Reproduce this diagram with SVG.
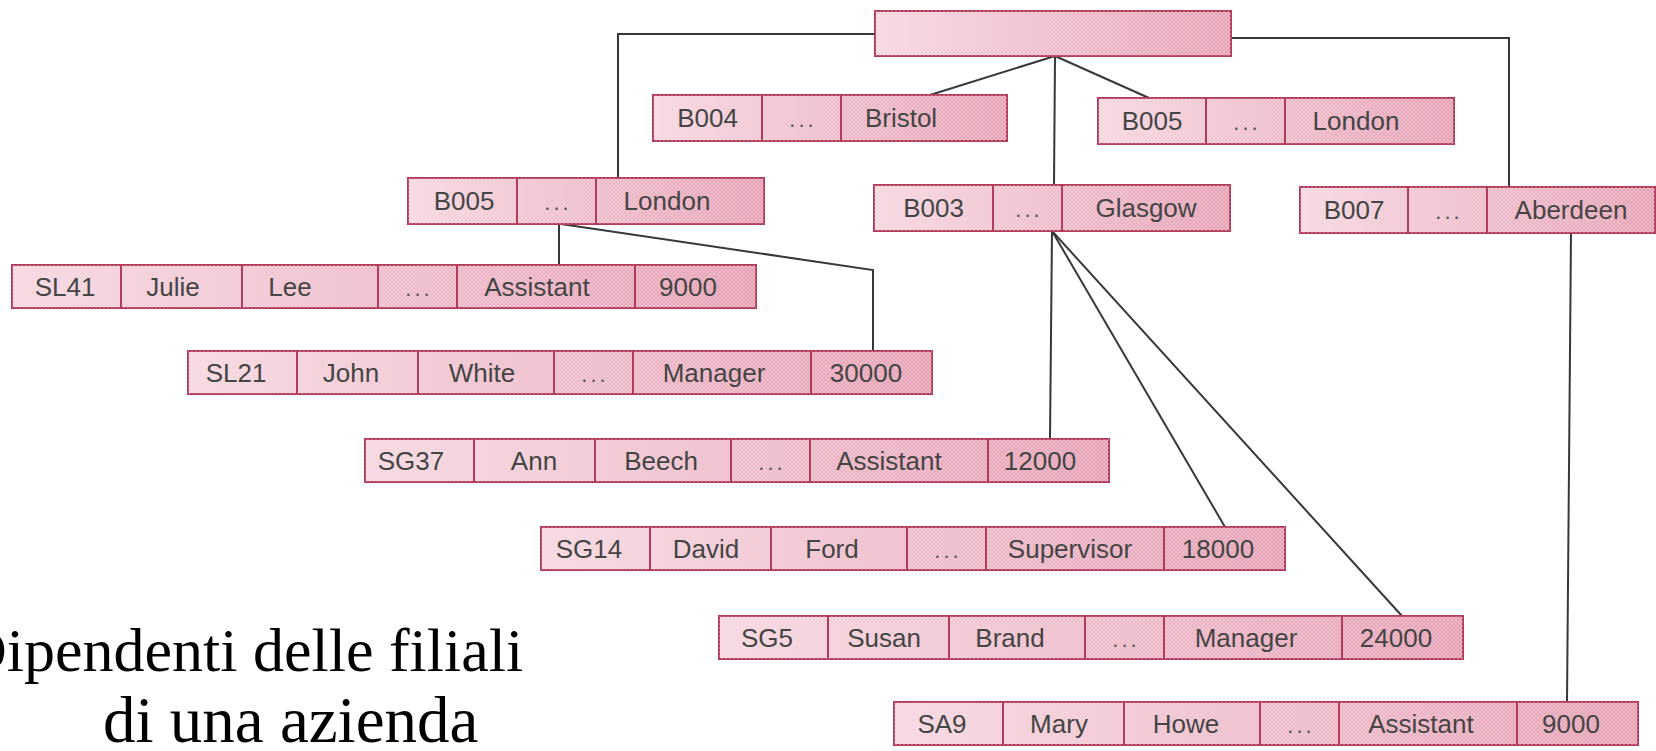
<svg xmlns="http://www.w3.org/2000/svg" width="1656" height="751" viewBox="0 0 1656 751">
<defs>
<linearGradient id="pink" x1="0" y1="0" x2="1" y2="0">
<stop offset="0" stop-color="#f6d6df"/>
<stop offset="1" stop-color="#e6a0b4"/>
</linearGradient>
<pattern id="hatch" width="4" height="4" patternUnits="userSpaceOnUse">
<path d="M0,4 L4,0 M0,0 L4,4" stroke="#ffffff" stroke-width="0.7" stroke-opacity="0.35"/>
</pattern>
<style>
.box{fill:url(#pink);stroke:#b33c5c;stroke-width:2}
.tex{fill:url(#hatch);stroke:none}
.div{stroke:#b33c5c;stroke-width:2}
.t{font-family:"Liberation Sans",Arial,sans-serif;font-size:26px;fill:#454545;text-anchor:middle}
.d{font-family:"Liberation Sans",Arial,sans-serif;font-size:22px;fill:#555;text-anchor:middle;letter-spacing:3px}
.c{fill:none;stroke:#383838;stroke-width:2}
.title{font-family:"Liberation Serif","Times New Roman",serif;fill:#000}
</style>
</defs>
<rect width="1656" height="751" fill="#ffffff"/>

<g id="connectors">
<polyline class="c" points="875,34 618,34 618,178"/>
<polyline class="c" points="1231,38 1509,38 1509,187"/>
<line class="c" x1="1055" y1="56" x2="930" y2="95"/>
<line class="c" x1="1055" y1="56" x2="1149" y2="98"/>
<line class="c" x1="1055" y1="56" x2="1054" y2="185"/>
<line class="c" x1="559" y1="224" x2="559" y2="265"/>
<polyline class="c" points="561,224 873,270 873,351"/>
<line class="c" x1="1052" y1="231" x2="1050" y2="439"/>
<line class="c" x1="1052" y1="231" x2="1225" y2="527"/>
<line class="c" x1="1052" y1="231" x2="1402" y2="616"/>
<line class="c" x1="1571" y1="233" x2="1567" y2="702"/>
</g>

<g id="root">
<rect class="box" x="875" y="11" width="356" height="45"/>
<rect class="tex" x="875" y="11" width="356" height="45"/>
</g>

<g id="b004">
<rect class="box" x="653" y="95" width="354" height="46"/>
<rect class="tex" x="653" y="95" width="354" height="46"/>
<line class="div" x1="762" y1="95" x2="762" y2="141"/>
<line class="div" x1="841" y1="95" x2="841" y2="141"/>
<text class="t" x="707.5" y="127">B004</text>
<text class="d" x="803" y="127">...</text>
<text class="t" x="901" y="127">Bristol</text>
</g>

<g id="b005-right">
<rect class="box" x="1098" y="98" width="356" height="46"/>
<rect class="tex" x="1098" y="98" width="356" height="46"/>
<line class="div" x1="1206" y1="98" x2="1206" y2="144"/>
<line class="div" x1="1285" y1="98" x2="1285" y2="144"/>
<text class="t" x="1152" y="130">B005</text>
<text class="d" x="1247" y="130">...</text>
<text class="t" x="1356" y="130">London</text>
</g>

<g id="b005-left">
<rect class="box" x="408" y="178" width="356" height="46"/>
<rect class="tex" x="408" y="178" width="356" height="46"/>
<line class="div" x1="517" y1="178" x2="517" y2="224"/>
<line class="div" x1="596" y1="178" x2="596" y2="224"/>
<text class="t" x="464" y="210">B005</text>
<text class="d" x="558" y="210">...</text>
<text class="t" x="667" y="210">London</text>
</g>

<g id="b003">
<rect class="box" x="874" y="185" width="356" height="46"/>
<rect class="tex" x="874" y="185" width="356" height="46"/>
<line class="div" x1="993" y1="185" x2="993" y2="231"/>
<line class="div" x1="1062" y1="185" x2="1062" y2="231"/>
<text class="t" x="933.5" y="217">B003</text>
<text class="d" x="1029" y="217">...</text>
<text class="t" x="1146" y="217">Glasgow</text>
</g>

<g id="b007">
<rect class="box" x="1300" y="187" width="355" height="46"/>
<rect class="tex" x="1300" y="187" width="355" height="46"/>
<line class="div" x1="1408" y1="187" x2="1408" y2="233"/>
<line class="div" x1="1487" y1="187" x2="1487" y2="233"/>
<text class="t" x="1354" y="219">B007</text>
<text class="d" x="1449" y="219">...</text>
<text class="t" x="1571" y="219">Aberdeen</text>
</g>

<g id="sl41">
<rect class="box" x="12" y="265" width="744" height="43"/>
<rect class="tex" x="12" y="265" width="744" height="43"/>
<line class="div" x1="121" y1="265" x2="121" y2="308"/>
<line class="div" x1="242" y1="265" x2="242" y2="308"/>
<line class="div" x1="378" y1="265" x2="378" y2="308"/>
<line class="div" x1="457" y1="265" x2="457" y2="308"/>
<line class="div" x1="635" y1="265" x2="635" y2="308"/>
<text class="t" x="65" y="295.5">SL41</text>
<text class="t" x="173" y="295.5">Julie</text>
<text class="t" x="290" y="295.5">Lee</text>
<text class="d" x="419" y="295.5">...</text>
<text class="t" x="537" y="295.5">Assistant</text>
<text class="t" x="688" y="295.5">9000</text>
</g>

<g id="sl21">
<rect class="box" x="188" y="351" width="744" height="43"/>
<rect class="tex" x="188" y="351" width="744" height="43"/>
<line class="div" x1="297" y1="351" x2="297" y2="394"/>
<line class="div" x1="418" y1="351" x2="418" y2="394"/>
<line class="div" x1="554" y1="351" x2="554" y2="394"/>
<line class="div" x1="633" y1="351" x2="633" y2="394"/>
<line class="div" x1="811" y1="351" x2="811" y2="394"/>
<text class="t" x="236" y="381.5">SL21</text>
<text class="t" x="351" y="381.5">John</text>
<text class="t" x="482" y="381.5">White</text>
<text class="d" x="595" y="381.5">...</text>
<text class="t" x="714" y="381.5">Manager</text>
<text class="t" x="866" y="381.5">30000</text>
</g>

<g id="sg37">
<rect class="box" x="365" y="439" width="744" height="43"/>
<rect class="tex" x="365" y="439" width="744" height="43"/>
<line class="div" x1="474" y1="439" x2="474" y2="482"/>
<line class="div" x1="595" y1="439" x2="595" y2="482"/>
<line class="div" x1="731" y1="439" x2="731" y2="482"/>
<line class="div" x1="810" y1="439" x2="810" y2="482"/>
<line class="div" x1="988" y1="439" x2="988" y2="482"/>
<text class="t" x="411" y="469.5">SG37</text>
<text class="t" x="534" y="469.5">Ann</text>
<text class="t" x="661" y="469.5">Beech</text>
<text class="d" x="772" y="469.5">...</text>
<text class="t" x="889" y="469.5">Assistant</text>
<text class="t" x="1040" y="469.5">12000</text>
</g>

<g id="sg14">
<rect class="box" x="541" y="527" width="744" height="43"/>
<rect class="tex" x="541" y="527" width="744" height="43"/>
<line class="div" x1="650" y1="527" x2="650" y2="570"/>
<line class="div" x1="771" y1="527" x2="771" y2="570"/>
<line class="div" x1="907" y1="527" x2="907" y2="570"/>
<line class="div" x1="986" y1="527" x2="986" y2="570"/>
<line class="div" x1="1164" y1="527" x2="1164" y2="570"/>
<text class="t" x="589" y="557.5">SG14</text>
<text class="t" x="706" y="557.5">David</text>
<text class="t" x="832" y="557.5">Ford</text>
<text class="d" x="948" y="557.5">...</text>
<text class="t" x="1070" y="557.5">Supervisor</text>
<text class="t" x="1218" y="557.5">18000</text>
</g>

<g id="sg5">
<rect class="box" x="719" y="616" width="744" height="43"/>
<rect class="tex" x="719" y="616" width="744" height="43"/>
<line class="div" x1="828" y1="616" x2="828" y2="659"/>
<line class="div" x1="949" y1="616" x2="949" y2="659"/>
<line class="div" x1="1085" y1="616" x2="1085" y2="659"/>
<line class="div" x1="1164" y1="616" x2="1164" y2="659"/>
<line class="div" x1="1342" y1="616" x2="1342" y2="659"/>
<text class="t" x="767" y="646.5">SG5</text>
<text class="t" x="884" y="646.5">Susan</text>
<text class="t" x="1010" y="646.5">Brand</text>
<text class="d" x="1126" y="646.5">...</text>
<text class="t" x="1246" y="646.5">Manager</text>
<text class="t" x="1396" y="646.5">24000</text>
</g>

<g id="sa9">
<rect class="box" x="894" y="702" width="744" height="43"/>
<rect class="tex" x="894" y="702" width="744" height="43"/>
<line class="div" x1="1003" y1="702" x2="1003" y2="745"/>
<line class="div" x1="1124" y1="702" x2="1124" y2="745"/>
<line class="div" x1="1260" y1="702" x2="1260" y2="745"/>
<line class="div" x1="1339" y1="702" x2="1339" y2="745"/>
<line class="div" x1="1517" y1="702" x2="1517" y2="745"/>
<text class="t" x="942" y="732.5">SA9</text>
<text class="t" x="1059" y="732.5">Mary</text>
<text class="t" x="1186" y="732.5">Howe</text>
<text class="d" x="1301" y="732.5">...</text>
<text class="t" x="1421" y="732.5">Assistant</text>
<text class="t" x="1571" y="732.5">9000</text>
</g>

<g id="title">
<text class="title" x="-38" y="671" font-size="62">Dipendenti delle filiali</text>
<text class="title" x="103" y="742" font-size="65">di una azienda</text>
</g>
</svg>
